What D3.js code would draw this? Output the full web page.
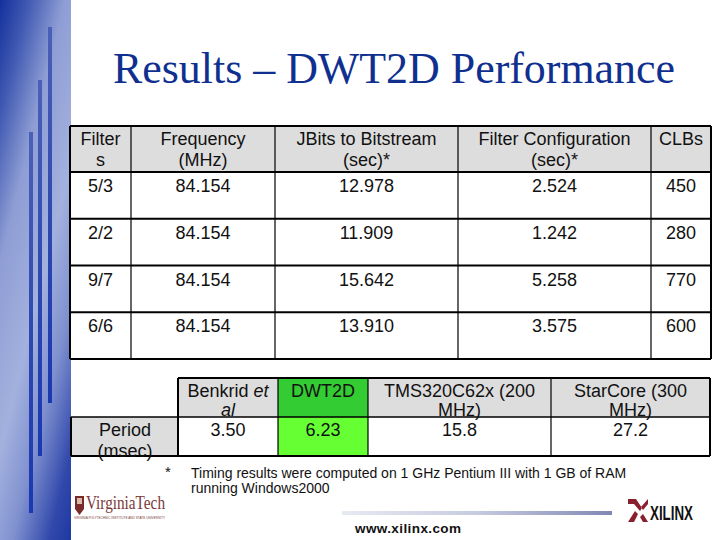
<!DOCTYPE html>
<html>
<head>
<meta charset="utf-8">
<script src="https://cdn.jsdelivr.net/npm/d3@7/dist/d3.min.js"></script>
<style>
  html, body { margin: 0; padding: 0; background: #fff; }
  svg { display: block; }
  text { font-family: "Liberation Sans", Arial, sans-serif; fill: #111; }
</style>
</head>
<body>
<svg id="slide" width="720" height="540"></svg>
<script>
const title = 'Results – DWT2D Performance'

const headers = [['Filter', 's'], ['Frequency', '(MHz)'], ['JBits to Bitstream', '(sec)*'], ['Filter Configuration', '(sec)*'], ['CLBs']]
const filters = ['5/3', '2/2', '9/7', '6/6']
const frequency = ['84.154', '84.154', '84.154', '84.154']
const jbits = ['12.978', '11.909', '15.642', '13.910']
const filterConfig = ['2.524', '1.242', '5.258', '3.575']
const clbs = ['450', '280', '770', '600']

const platforms = [['Benkrid et', 'al'], ['DWT2D'], ['TMS320C62x (200', 'MHz)'], ['StarCore (300', 'MHz)']]
const periods = ['3.50', '6.23', '15.8', '27.2']

const footnote = ['Timing results were computed on 1 GHz Pentium III with 1 GB of RAM', 'running Windows2000']

const svg = d3.select('#slide')
const defs = svg.append('defs')

// sidebar
const sideGrad = defs.append('linearGradient').attr('id', 'side')
    .attr('gradientUnits', 'userSpaceOnUse')
    .attr('x1', 0).attr('y1', 0).attr('x2', 191).attr('y2', 47)
sideGrad.selectAll('stop')
    .data([[0, '#14309c'], [0.14, '#4059b2'], [0.32, '#8e9dd4'], [0.55, '#a3b1de'], [0.72, '#7f90cf'], [0.9, '#3148ab'], [1, '#1f3aa2']])
    .join('stop').attr('offset', d => d[0]).attr('stop-color', d => d[1])
const stripeGrad = defs.append('linearGradient').attr('id', 'stripe').attr('x1', 0).attr('y1', 0).attr('x2', 0).attr('y2', 1)
stripeGrad.selectAll('stop')
    .data([[0, '#4a60b8'], [0.5, '#3049ae'], [1, '#1a38b0']])
    .join('stop').attr('offset', d => d[0]).attr('stop-color', d => d[1])

svg.append('rect').attr('width', 71).attr('height', 540).attr('fill', 'url(#side)')
svg.selectAll('.stripe')
    .data([{x: 48, y1: 27, y2: 403}, {x: 38, y1: 80, y2: 456}, {x: 29, y1: 132, y2: 513}])
    .join('rect').attr('class', 'stripe')
    .attr('x', d => d.x).attr('y', d => d.y1).attr('width', 4).attr('height', d => d.y2 - d.y1)
    .attr('fill', 'url(#stripe)')

svg.append('text').text(title)
    .attr('x', 113).attr('y', 83)
    .style('font-family', '"Liberation Serif", serif').style('font-size', '44px').style('fill', '#10308f')
    .attr('textLength', 562).attr('lengthAdjust', 'spacingAndGlyphs')

// first table
const colEdges = [70, 131, 275, 458, 651, 711]
const col = d3.scaleOrdinal().domain(d3.range(colEdges.length)).range(colEdges)
const colMid = i => (col(i) + col(i + 1)) / 2
const rowY = d3.scaleBand().domain(d3.range(filters.length)).range([172, 359])
const headTop = 126

svg.append('rect').attr('x', col(0)).attr('y', headTop).attr('width', col(5) - col(0)).attr('height', rowY(0) - headTop).attr('fill', '#dddddd')
svg.append('rect').attr('x', col(0)).attr('y', rowY(0)).attr('width', col(5) - col(0)).attr('height', rowY.step() * 4).attr('fill', '#fff')

const t1 = svg.append('g').style('font-size', '18px').attr('text-anchor', 'middle')
headers.forEach((lines, i) => {
    t1.selectAll(null).data(lines).join('text').text(d => d)
        .attr('x', colMid(i)).attr('y', (d, j) => 145 + j * 20.5)
})
;[filters, frequency, jbits, filterConfig, clbs].forEach((values, i) => {
    t1.selectAll(null).data(values).join('text').text(d => d)
        .attr('x', colMid(i)).attr('y', (d, j) => rowY(j) + 20)
})

const grid = svg.append('g').attr('stroke', '#000').attr('fill', 'none')
grid.selectAll('.v').data(d3.range(colEdges.length)).join('line').attr('class', 'v')
    .attr('x1', d => col(d)).attr('x2', d => col(d)).attr('y1', headTop).attr('y2', 359)
    .attr('stroke-width', d => (d === 0 || d === 5) ? 2 : 1.2)
grid.selectAll('.h').data([headTop].concat(filters.map((d, i) => rowY(i))).concat([359])).join('line').attr('class', 'h')
    .attr('x1', col(0)).attr('x2', col(5)).attr('y1', d => d).attr('y2', d => d)
    .attr('stroke-width', 2)

// second table
const edges2 = [178, 278, 368, 551, 710]
const col2 = d3.scaleOrdinal().domain(d3.range(edges2.length)).range(edges2)
const row2 = d3.scaleOrdinal().domain([0, 1, 2]).range([378, 417, 456])
const leftEdge2 = 71

const headFill = ['#dddddd', '#33cc33', '#dddddd', '#dddddd']
const cellFill = ['#fff', '#66ff33', '#fff', '#fff']
svg.selectAll('.h2').data(platforms).join('rect').attr('class', 'h2')
    .attr('x', (d, i) => col2(i)).attr('y', row2(0)).attr('width', (d, i) => col2(i + 1) - col2(i)).attr('height', row2(1) - row2(0))
    .attr('fill', (d, i) => headFill[i])
svg.selectAll('.c2').data(periods).join('rect').attr('class', 'c2')
    .attr('x', (d, i) => col2(i)).attr('y', row2(1)).attr('width', (d, i) => col2(i + 1) - col2(i)).attr('height', row2(2) - row2(1))
    .attr('fill', (d, i) => cellFill[i])
svg.append('rect').attr('x', leftEdge2).attr('y', row2(1)).attr('width', col2(0) - leftEdge2).attr('height', row2(2) - row2(1)).attr('fill', '#dddddd')

const grid2 = svg.append('g').attr('stroke', '#000').attr('fill', 'none')
grid2.selectAll('.v').data(d3.range(edges2.length)).join('line').attr('class', 'v')
    .attr('x1', d => col2(d)).attr('x2', d => col2(d)).attr('y1', row2(0)).attr('y2', row2(2))
    .attr('stroke-width', d => (d === 0 || d === 4) ? 2 : 1.2)
grid2.append('line').attr('x1', leftEdge2).attr('x2', leftEdge2).attr('y1', row2(1)).attr('y2', row2(2)).attr('stroke-width', 2)
grid2.append('line').attr('x1', col2(0)).attr('x2', col2(4)).attr('y1', row2(0)).attr('y2', row2(0)).attr('stroke-width', 2)
grid2.append('line').attr('x1', leftEdge2).attr('x2', col2(4)).attr('y1', row2(1)).attr('y2', row2(1)).attr('stroke-width', 1.5)
grid2.append('line').attr('x1', leftEdge2).attr('x2', col2(4)).attr('y1', row2(2)).attr('y2', row2(2)).attr('stroke-width', 2)

const t2 = svg.append('g').style('font-size', '18px').attr('text-anchor', 'middle')
platforms.forEach((lines, i) => {
    const mid = (col2(i) + col2(i + 1)) / 2
    const cell = t2.append('text').attr('x', mid).attr('y', 397)
    if (i === 0) {
        cell.append('tspan').text('Benkrid ')
        cell.append('tspan').text('et').style('font-style', 'italic')
        t2.append('text').text(lines[1]).attr('x', mid).attr('y', 416).style('font-style', 'italic')
    } else {
        cell.text(lines[0])
        if (lines[1]) t2.append('text').text(lines[1]).attr('x', mid).attr('y', 416)
    }
})
t2.selectAll('.p').data(periods).join('text').attr('class', 'p').text(d => d)
    .attr('x', (d, i) => (col2(i) + col2(i + 1)) / 2).attr('y', 435.5)
t2.append('text').text('Period').attr('x', 125).attr('y', 435.5)
t2.append('text').text('(msec)').attr('x', 125).attr('y', 456.5)

// footnote
const foot = svg.append('g').style('font-size', '14px')
foot.append('text').text('*').attr('x', 165).attr('y', 477).style('font-size', '15px')
foot.selectAll('.f').data(footnote).join('text').attr('class', 'f').text(d => d)
    .attr('x', 191).attr('y', (d, i) => 478 + i * 15)

// footer bar
const barGrad = defs.append('linearGradient').attr('id', 'bar')
barGrad.selectAll('stop').data([[0, '#e8eaf2'], [0.5, '#c6cbe0'], [1, '#8088b4']])
    .join('stop').attr('offset', d => d[0]).attr('stop-color', d => d[1])
svg.append('rect').attr('x', 342).attr('y', 511).attr('width', 270).attr('height', 4).attr('fill', 'url(#bar)')
svg.append('text').text('www.xilinx.com').attr('x', 355).attr('y', 533)
    .style('font-size', '13.5px').style('font-weight', 'bold')
    .attr('textLength', 106)

// Virginia Tech logo
const vt = svg.append('g')
vt.append('path').attr('d', 'M75 496h9v13l-4.500 6l-4.500-6z').attr('fill', '#7a2a2a')
vt.append('rect').attr('x', 77).attr('y', 498).attr('width', 5).attr('height', 6).attr('fill', '#d9b9a8')
vt.append('text').text('VirginiaTech').attr('x', 86).attr('y', 509)
    .style('font-family', '"Liberation Serif", serif').style('font-size', '19px').style('fill', '#7a3a3a')
    .attr('textLength', 79).attr('lengthAdjust', 'spacingAndGlyphs')
vt.append('text').text('VIRGINIA POLYTECHNIC INSTITUTE AND STATE UNIVERSITY').attr('x', 74).attr('y', 519)
    .style('font-size', '4px').style('fill', '#7a3a3a')
    .attr('textLength', 91).attr('lengthAdjust', 'spacingAndGlyphs')

// Xilinx logo
const xl = svg.append('g')
xl.append('path').attr('d', 'M628 499h8l6 9l-2 3l-6-7h-6zM628 522l7-11l3 3l-4 8zM648 499l-7 8l2 3l5-6zM648 522l-5-8l-3 3l3 5z').attr('fill', '#8a1f2d')
xl.append('text').text('XILINX').attr('x', 650).attr('y', 520)
    .style('font-size', '20px').style('font-weight', 'bold').style('fill', '#111')
    .attr('textLength', 43).attr('lengthAdjust', 'spacingAndGlyphs')
</script>
</body>
</html>
